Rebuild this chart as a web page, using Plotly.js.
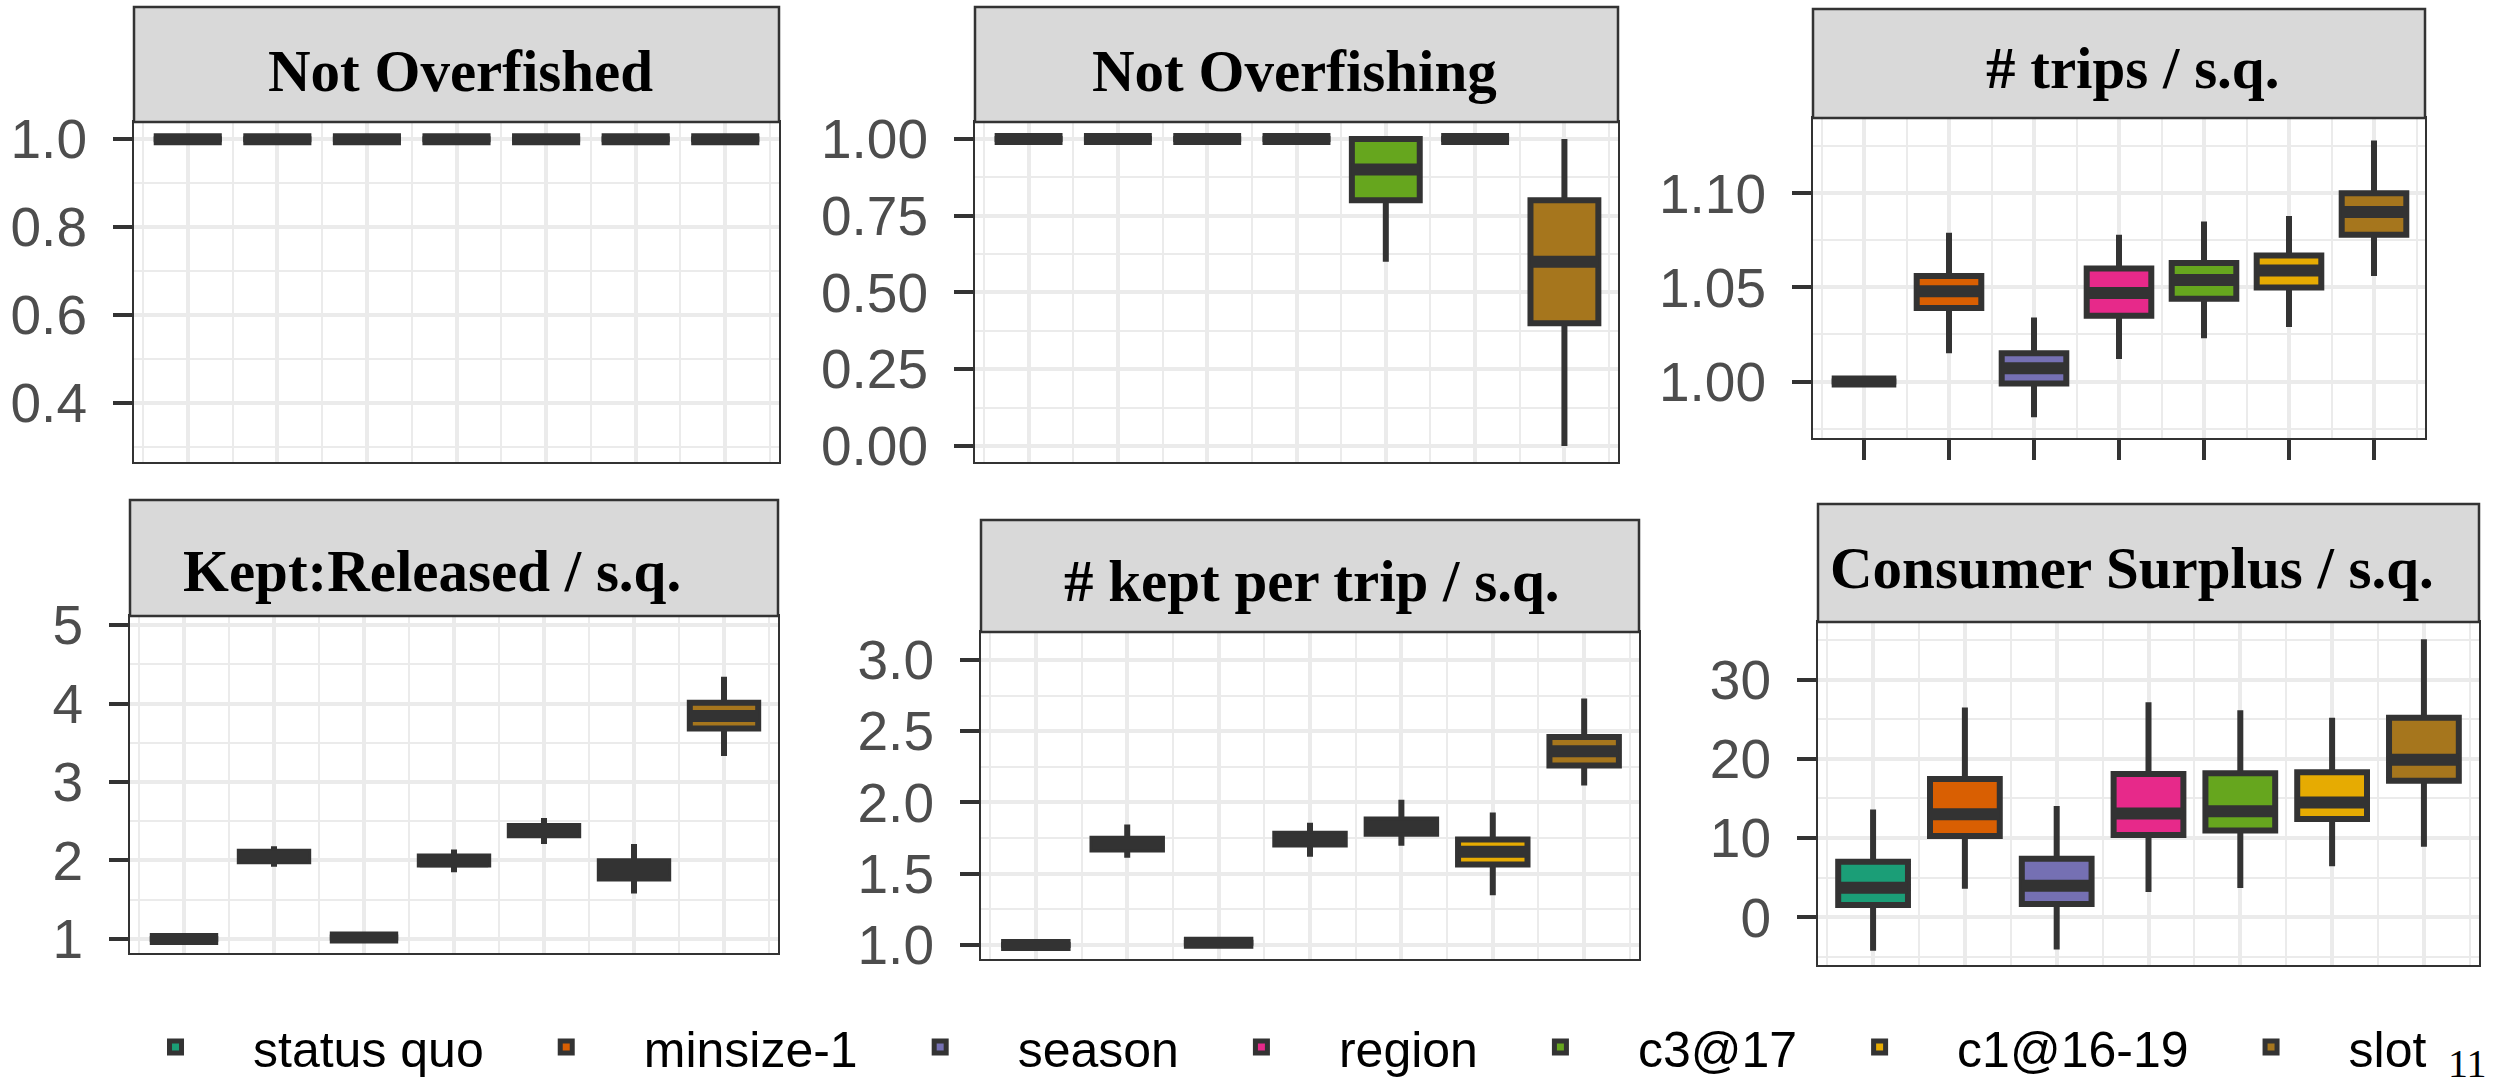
<!DOCTYPE html>
<html><head><meta charset="utf-8">
<script src="https://cdn.plot.ly/plotly-3.0.1.min.js"></script>
<style>html,body{margin:0;padding:0;background:#fff;}#chart{width:2502px;height:1092px;}</style>
</head><body><div id="chart"></div>
<script>
// ---------- data ----------
const categories = ['status quo','minsize-1','season','region','c3@17','c1@16-19','slot'];
const colors = ['#1B9E77','#D95F02','#7570B3','#E7298A','#66A61E','#E6AB02','#A6761D'];
const panelTitles = ['Not Overfished','Not Overfishing','# trips / s.q.','Kept:Released / s.q.','# kept per trip / s.q.','Consumer Surplus / s.q.'];

// Not Overfished
const ofLo  = [1,1,1,1,1,1,1];
const ofQ1  = [1,1,1,1,1,1,1];
const ofMed = [1,1,1,1,1,1,1];
const ofQ3  = [1,1,1,1,1,1,1];
const ofHi  = [1,1,1,1,1,1,1];
// Not Overfishing
const ogLo  = [1,1,1,1,0.60,1,0.00];
const ogQ1  = [1,1,1,1,0.80,1,0.40];
const ogMed = [1,1,1,1,0.90,1,0.60];
const ogQ3  = [1,1,1,1,1.00,1,0.80];
const ogHi  = [1,1,1,1,1.00,1,1.00];
// # trips / s.q.
const trLo  = [1,1.015,0.981,1.012,1.023,1.029,1.056];
const trQ1  = [1,1.039,0.999,1.035,1.044,1.050,1.078];
const trMed = [1,1.048,1.007,1.047,1.054,1.059,1.090];
const trQ3  = [1,1.056,1.015,1.060,1.063,1.067,1.100];
const trHi  = [1,1.079,1.034,1.078,1.085,1.088,1.128];
// Kept:Released / s.q.
const krLo  = [1,1.92,1.02,1.85,2.21,1.58,3.33];
const krQ1  = [1,1.99,1.02,1.95,2.32,1.77,3.68];
const krMed = [1,2.05,1.02,1.99,2.38,1.88,3.84];
const krQ3  = [1,2.11,1.02,2.05,2.44,1.99,4.01];
const krHi  = [1,2.18,1.02,2.14,2.54,2.21,4.34];
// # kept per trip / s.q.
const kpLo  = [1,1.613,1.016,1.62,1.697,1.35,2.12];
const kpQ1  = [1,1.67,1.016,1.705,1.78,1.565,2.26];
const kpMed = [1,1.71,1.016,1.74,1.83,1.655,2.36];
const kpQ3  = [1,1.745,1.016,1.78,1.88,1.74,2.46];
const kpHi  = [1,1.846,1.016,1.858,2.02,1.93,2.73];
// Consumer Surplus / s.q.
const csLo  = [-4.23,3.6,-4.06,3.2,3.7,6.45,8.9];
const csQ1  = [1.55,10.25,1.67,10.4,10.95,12.4,17.25];
const csMed = [3.72,13.0,4.0,13.1,13.4,14.5,19.9];
const csQ3  = [7.0,17.45,7.4,18.1,18.2,18.3,25.2];
const csHi  = [13.6,26.5,14.06,27.15,26.15,25.2,35.1];

const panelData = [
  [ofLo,ofQ1,ofMed,ofQ3,ofHi],
  [ogLo,ogQ1,ogMed,ogQ3,ogHi],
  [trLo,trQ1,trMed,trQ3,trHi],
  [krLo,krQ1,krMed,krQ3,krHi],
  [kpLo,kpQ1,kpMed,kpQ3,kpHi],
  [csLo,csQ1,csMed,csQ3,csHi]
];

// ---------- layout geometry (pixels) ----------
const W = 2502, H = 1092;
const geom = [
  {l:134, r:779,  st:7,   t:122, b:462, tx:460,  ty:71.5, yr:[0.266,1.039], dt:0.2,  mdt:0.1,   fmt:'.1f', xt:false},
  {l:975, r:1618, st:7,   t:122, b:462, tx:1294, ty:71.5, yr:[-0.052,1.055],dt:0.25, mdt:0.125, fmt:'.2f', xt:false},
  {l:1813,r:2425, st:9,   t:118, b:438, tx:2132, ty:68,   yr:[0.970,1.140], dt:0.05, mdt:0.025, fmt:'.2f', xt:true},
  {l:130, r:778,  st:500, t:616, b:953, tx:432,  ty:571,  yr:[0.821,5.115], dt:1,    mdt:0.5,   fmt:'d',   xt:false},
  {l:981, r:1639, st:520, t:632, b:959, tx:1312, ty:581,  yr:[0.902,3.196], dt:0.5,  mdt:0.25,  fmt:'.1f', xt:false},
  {l:1818,r:2479, st:504, t:622, b:965, tx:2132, ty:567.5,yr:[-6.02,37.28], dt:10,   mdt:5,     fmt:'d',   xt:false}
];

const LINE = '#333333', GRID = '#EBEBEB';
const data = [];
const layout = {
  width: W, height: H, margin:{l:0,r:0,t:0,b:0},
  paper_bgcolor:'#ffffff', plot_bgcolor:'#ffffff',
  showlegend:true, boxmode:'overlay',
  legend:{orientation:'h', x:0.5056, xanchor:'center', y:0.0412, yanchor:'middle',
          font:{family:'Liberation Sans, Arial, sans-serif', size:50, color:'#000'},
          itemwidth:145, bgcolor:'rgba(0,0,0,0)', traceorder:'normal'},
  shapes:[], annotations:[]
};

geom.forEach((g, p) => {
  const sx = p === 0 ? '' : String(p+1);
  const xa = 'x' + sx, ya = 'y' + sx;
  const [lo,q1,med,q3,hi] = panelData[p];
  categories.forEach((c, i) => {
    data.push({
      type:'box', xaxis:xa, yaxis:ya, name:c, legendgroup:c, showlegend:p===0,
      x:[i], q1:[q1[i]], median:[med[i]], q3:[q3[i]], lowerfence:[lo[i]], upperfence:[hi[i]],
      fillcolor:colors[i], line:{color:LINE, width:6}, whiskerwidth:0, width:0.76,
      boxpoints:false, hoverinfo:'skip'
    });
  });
  // thick median bars (ggplot style)
  data.push({
    type:'box', xaxis:xa, yaxis:ya, name:'median', showlegend:false,
    x:categories.map((c,i)=>i), q1:med, median:med, q3:med, lowerfence:med, upperfence:med,
    fillcolor:'rgba(0,0,0,0)', line:{color:LINE, width:12}, whiskerwidth:0, width:0.76,
    boxpoints:false, hoverinfo:'skip'
  });
  const xkey = 'xaxis' + sx, ykey = 'yaxis' + sx;
  layout[xkey] = {
    domain:[g.l/W, g.r/W], anchor:ya, type:'linear', range:[-0.6, 6.6],
    tick0:0, dtick:1, showticklabels:false,
    ticks: g.xt ? 'outside' : '', ticklen:20, tickwidth:4, tickcolor:LINE,
    showgrid:true, gridcolor:GRID, gridwidth:4, zeroline:false,
    minor:{tick0:0, dtick:0.5, showgrid:true, gridcolor:GRID, gridwidth:2},
    showline:true, mirror:true, linecolor:LINE, linewidth:2, fixedrange:true
  };
  layout[ykey] = {
    domain:[1 - g.b/H, 1 - g.t/H], anchor:xa, range:g.yr,
    tick0:0, dtick:g.dt, tickformat:g.fmt,
    ticks:'outside', ticklen:19, tickwidth:4, tickcolor:LINE, ticklabelstandoff:15,
    tickfont:{family:'Liberation Sans, Arial, sans-serif', size:55, color:'#4D4D4D'},
    showgrid:true, gridcolor:GRID, gridwidth:4, zeroline:false,
    minor:{tick0:0, dtick:g.mdt, showgrid:true, gridcolor:GRID, gridwidth:2},
    showline:true, mirror:true, linecolor:LINE, linewidth:2, fixedrange:true
  };
  // strip
  layout.shapes.push({type:'rect', xref:'paper', yref:'paper',
    x0:g.l/W, x1:g.r/W, y0:1 - g.t/H, y1:1 - g.st/H,
    fillcolor:'#D9D9D9', line:{color:LINE, width:2.5}});
  layout.annotations.push({xref:'paper', yref:'paper', x:g.tx/W, y:1 - g.ty/H,
    xanchor:'center', yanchor:'middle', showarrow:false, text:panelTitles[p],
    font:{family:'Liberation Serif, Times New Roman, serif', size:59, color:'#000', weight:'bold'}});
});

layout.annotations.push({xref:'paper', yref:'paper', x:2467/W, y:4/H, xanchor:'center', yanchor:'bottom',
  showarrow:false, text:'11',
  font:{family:'Liberation Serif, Times New Roman, serif', size:40, color:'#000'}});

Plotly.newPlot('chart', data, layout, {displayModeBar:false, staticPlot:true});
</script></body></html>
